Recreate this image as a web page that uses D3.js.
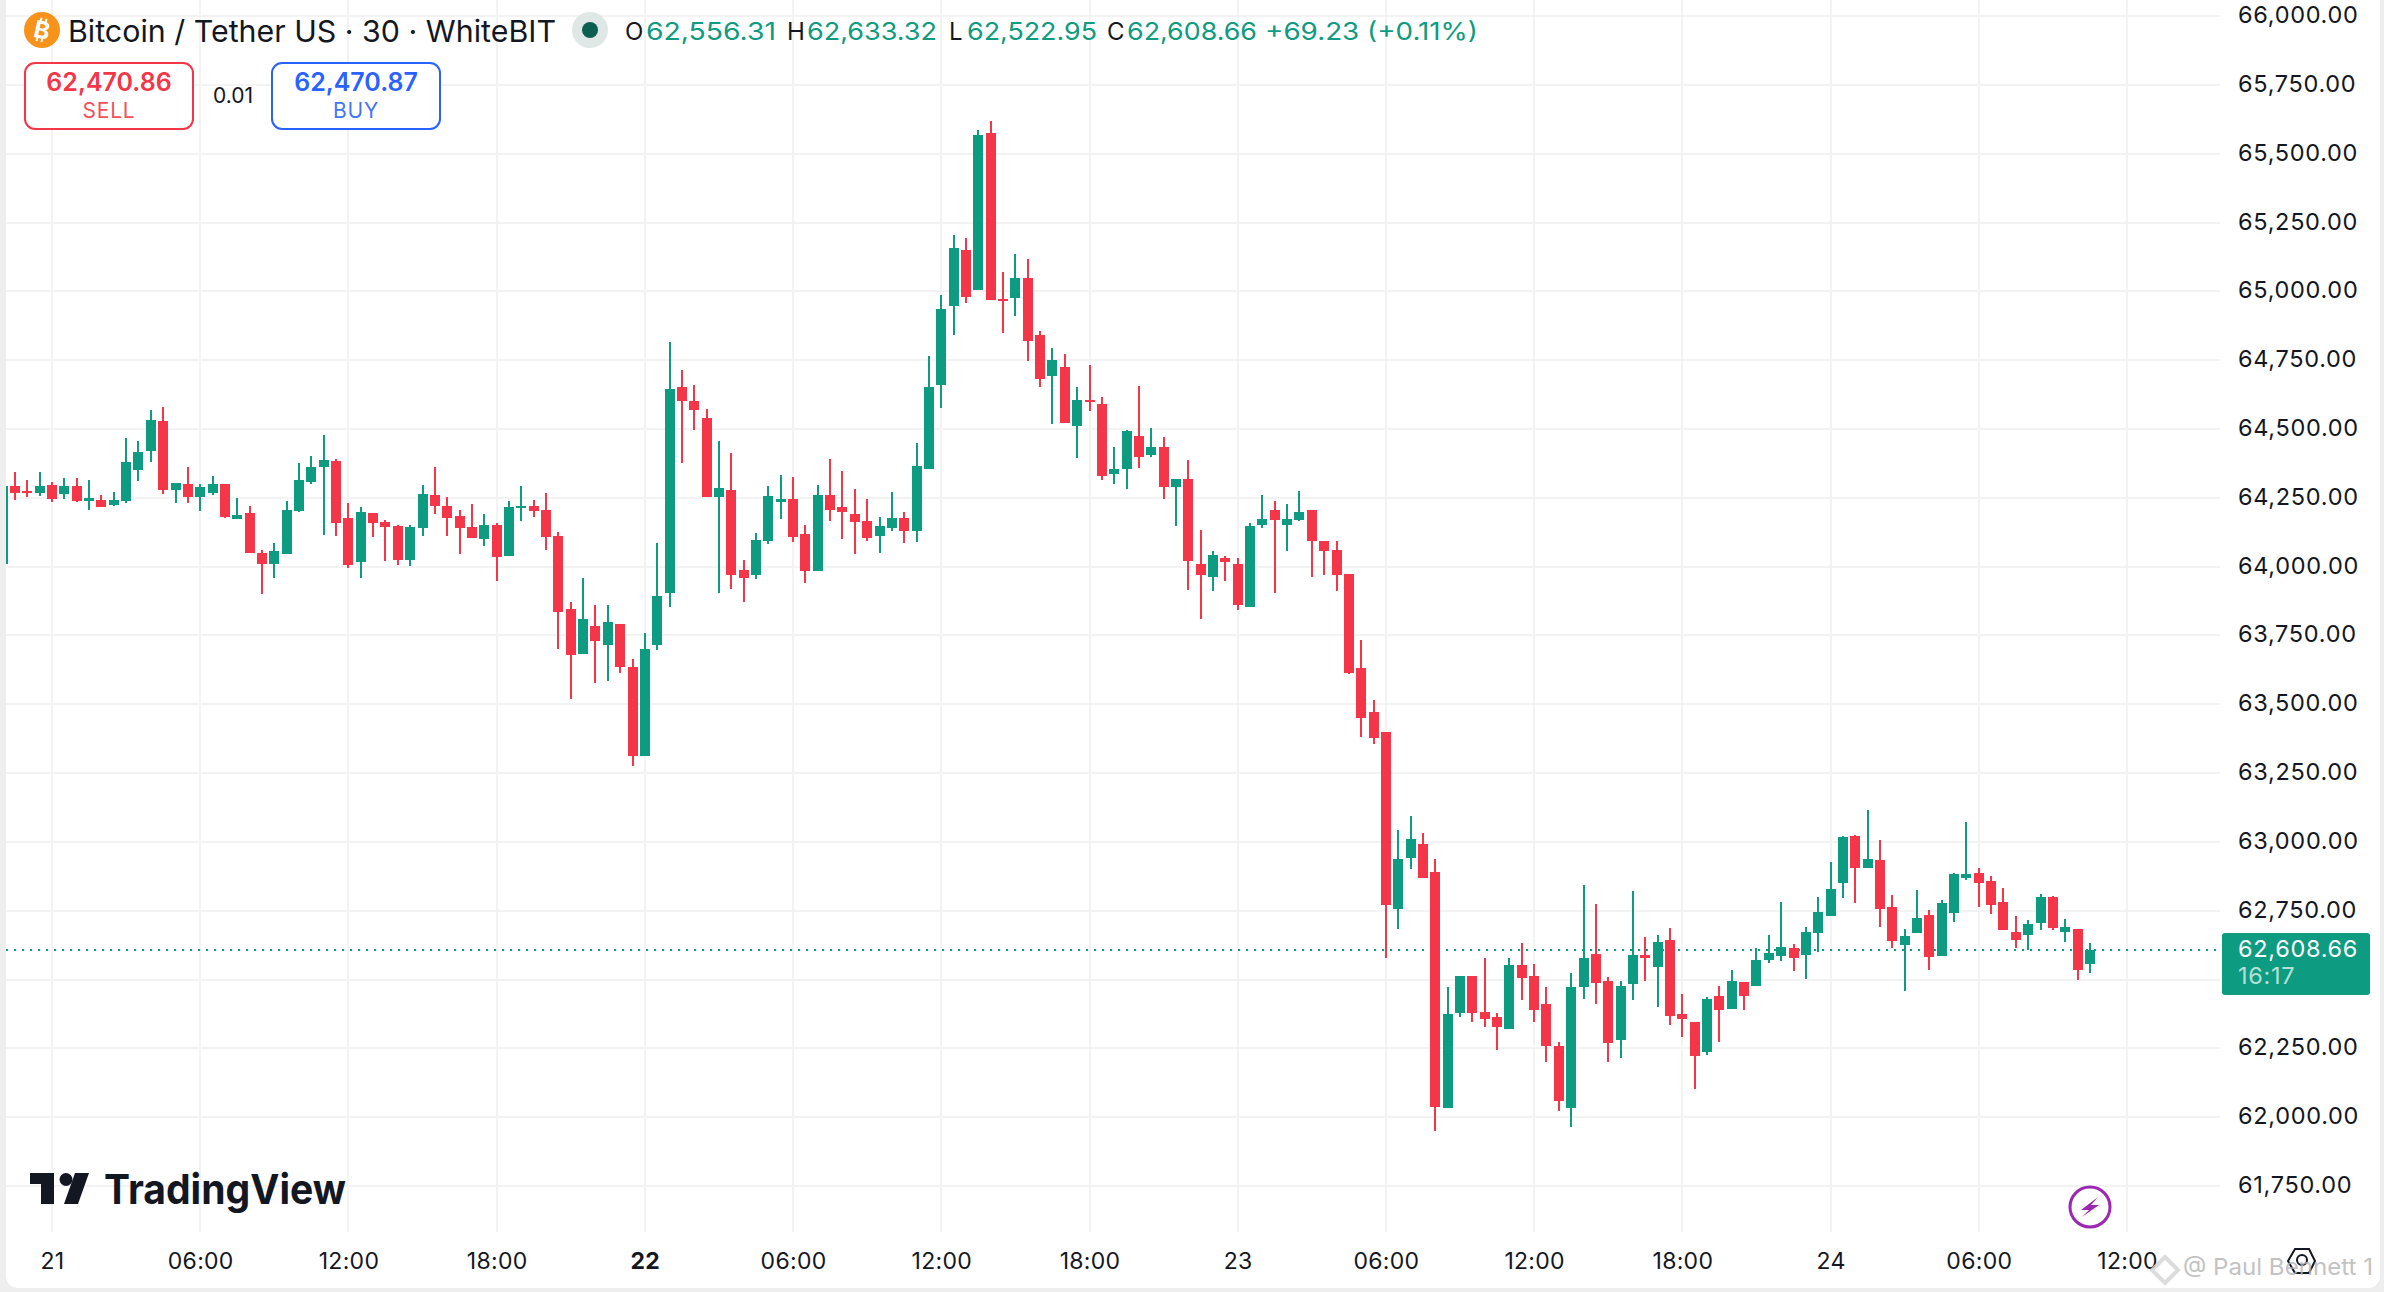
<!DOCTYPE html>
<html>
<head>
<meta charset="utf-8">
<title>Bitcoin / Tether US</title>
<script src="https://cdn.jsdelivr.net/npm/d3@7/dist/d3.min.js"></script>
<style>
  html, body { margin: 0; padding: 0; background: #fff; }
  svg { display: block; font-family: Inter, "Noto Sans", sans-serif; }
  .axis text { font-family: Inter, sans-serif; fill: #131722; }
</style>
</head>
<body>
<svg id="chart" width="2384" height="1292"></svg>
<script>
// candles are 30 min bars, bar 0 is 21st 00:00..
const firstBar = -4;
const opens = [
  64010, 64293, 64275, 64268,
  64297, 64264, 64293, 64238, 64242, 64224, 64238, 64351, 64420, 64529, 64278, 64300,
  64253, 64268, 64300, 64173, 64195, 64050, 64010, 64046, 64202, 64307, 64362, 64384,
  64177, 64017, 64195, 64162, 64148, 64024, 64140, 64260, 64220, 64184, 64144, 64100,
  64151, 64039, 64213, 64220, 64206, 64111, 63846, 63683, 63784, 63715, 63792, 63635,
  63312, 63715, 63904, 64653, 64602, 64540, 64253, 64278, 63988, 63970, 64093, 64235,
  64246, 64119, 63984, 64260, 64217, 64191, 64166, 64111, 64140, 64177, 64129, 64355,
  64661, 64948, 65151, 65006, 65576, 64973, 64977, 65050, 64843, 64691, 64727, 64512,
  64607, 64592, 64338, 64353, 64476, 64407, 64436, 64290, 64319, 64011, 63964, 64033,
  64008, 63855, 64153, 64207, 64153, 64170, 64204, 64094, 64061, 63973, 63630, 63471,
  63399, 62758, 62940, 62992, 62892, 62032, 62380, 62514, 62383, 62363, 62322, 62552,
  62514, 62410, 62260, 62035, 62472, 62591, 62494, 62279, 62483, 62588, 62547, 62642,
  62374, 62344, 62235, 62442, 62392, 62490, 62475, 62570, 62584, 62613, 62588, 62668,
  62730, 62850, 63021, 62904, 62933, 62762, 62624, 62668, 62733, 62584, 62741, 62868,
  62886, 62857, 62781, 62672, 62661, 62704, 62799, 62672, 62682, 62556.31
];
const highs = [
  64293, 64344, 64315, 64344,
  64307, 64322, 64322, 64315, 64260, 64271, 64467, 64456, 64569, 64580, 64304, 64362,
  64300, 64329, 64300, 64249, 64220, 64060, 64086, 64238, 64376, 64402, 64478, 64391,
  64231, 64217, 64195, 64169, 64151, 64151, 64297, 64362, 64253, 64206, 64228, 64191,
  64158, 64238, 64293, 64242, 64268, 64126, 63872, 63959, 63861, 63861, 63792, 63665,
  63759, 64086, 64816, 64714, 64660, 64573, 64456, 64413, 64024, 64122, 64293, 64333,
  64326, 64151, 64297, 64391, 64347, 64282, 64246, 64180, 64271, 64198, 64449, 64765,
  64985, 65206, 65195, 65588, 65620, 65072, 65134, 65119, 64857, 64796, 64771, 64651,
  64734, 64618, 64436, 64498, 64658, 64502, 64472, 64319, 64389, 64132, 64058, 64040,
  64033, 64160, 64262, 64240, 64229, 64273, 64204, 64094, 64092, 63973, 63733, 63515,
  63399, 63045, 63093, 63034, 62937, 62472, 62514, 62514, 62577, 62380, 62577, 62631,
  62555, 62472, 62274, 62525, 62845, 62776, 62508, 62494, 62823, 62653, 62661, 62686,
  62449, 62344, 62435, 62475, 62533, 62490, 62613, 62661, 62781, 62628, 62690, 62799,
  62926, 63021, 63024, 63115, 63006, 62806, 62682, 62824, 62752, 62788, 62886, 63072,
  62904, 62875, 62832, 62730, 62715, 62810, 62802, 62719, 62682, 62633.32
];
const lows = [
  64010, 64242, 64253, 64257,
  64235, 64246, 64235, 64206, 64217, 64220, 64231, 64311, 64380, 64264, 64231, 64231,
  64202, 64260, 64177, 64173, 64050, 63901, 63959, 64046, 64198, 64300, 64115, 64111,
  63995, 63959, 64108, 64020, 64006, 64002, 64111, 64191, 64111, 64046, 64104, 64075,
  63948, 64039, 64166, 64180, 64060, 63701, 63519, 63683, 63577, 63585, 63614, 63276,
  63312, 63697, 63853, 64376, 64496, 64253, 63904, 63919, 63872, 63955, 64082, 64173,
  64090, 63941, 63984, 64166, 64100, 64046, 64093, 64050, 64129, 64086, 64090, 64355,
  64578, 64840, 64956, 65006, 64970, 64847, 64912, 64748, 64651, 64519, 64523, 64393,
  64567, 64313, 64302, 64283, 64357, 64399, 64247, 64149, 63916, 63811, 63913, 63949,
  63844, 63855, 64142, 63903, 64055, 64164, 63964, 63971, 63913, 63610, 63380, 63354,
  62577, 62683, 62900, 62870, 61948, 62032, 62363, 62344, 62326, 62243, 62322, 62427,
  62347, 62202, 62024, 61965, 62431, 62410, 62202, 62216, 62427, 62494, 62399, 62336,
  62293, 62104, 62227, 62274, 62392, 62388, 62475, 62559, 62566, 62530, 62501, 62599,
  62730, 62795, 62777, 62904, 62690, 62613, 62457, 62668, 62533, 62584, 62708, 62861,
  62762, 62737, 62679, 62613, 62606, 62679, 62679, 62635, 62497, 62522.95
];
const closes = [
  64293, 64268, 64268, 64293,
  64246, 64293, 64238, 64249, 64217, 64242, 64380, 64416, 64533, 64278, 64304, 64253,
  64289, 64300, 64180, 64188, 64050, 64010, 64057, 64206, 64315, 64362, 64387, 64158,
  64006, 64198, 64158, 64144, 64024, 64144, 64264, 64220, 64177, 64140, 64104, 64151,
  64035, 64217, 64220, 64202, 64108, 63835, 63679, 63810, 63730, 63799, 63635, 63312,
  63701, 63893, 64645, 64602, 64569, 64253, 64286, 63970, 63959, 64097, 64257, 64246,
  64108, 63984, 64260, 64206, 64198, 64162, 64104, 64148, 64177, 64129, 64366, 64653,
  64937, 65159, 64981, 65569, 64970, 64966, 65050, 64821, 64683, 64752, 64523, 64607,
  64599, 64330, 64353, 64491, 64399, 64436, 64290, 64319, 64021, 63968, 64044, 64018,
  63859, 64149, 64174, 64168, 64174, 64200, 64092, 64058, 63971, 63613, 63449, 63377,
  62770, 62937, 63009, 62870, 62038, 62374, 62514, 62380, 62358, 62326, 62552, 62505,
  62391, 62257, 62058, 62472, 62577, 62489, 62271, 62478, 62588, 62580, 62636, 62366,
  62358, 62224, 62431, 62391, 62493, 62442, 62570, 62595, 62617, 62577, 62672, 62744,
  62828, 63017, 62904, 62937, 62755, 62639, 62657, 62722, 62581, 62777, 62882, 62882,
  62850, 62770, 62679, 62642, 62701, 62799, 62686, 62690, 62533, 62608.66
];

const priceTicks = [61750, 62000, 62250, 62500, 62750, 63000, 63250, 63500, 63750, 64000, 64250, 64500, 64750, 65000, 65250, 65500, 65750, 66000];
const hiddenPriceTick = 62500; // covered by the last price tag
const timeTickBars = [0, 12, 24, 36, 48, 60, 72, 84, 96, 108, 120, 132, 144, 156, 168];
const timeTickLabels = ['21', '06:00', '12:00', '18:00', '22', '06:00', '12:00', '18:00', '23', '06:00', '12:00', '18:00', '24', '06:00', '12:00'];
const boldTimeLabels = ['22'];
const lastPrice = 62608.66;

const ohlcLegend = [['O', '62,556.31'], ['H', '62,633.32'], ['L', '62,522.95'], ['C', '62,608.66']];

const green = '#0d9b81', red = '#f43648', gridColor = '#f3f3f3', ink = '#131722';
const plotLeft = 6, plotRight = 2220, plotBottom = 1232;

const bars = opens.map((o, i) => ({bar: firstBar + i, open: o, high: highs[i], low: lows[i], close: closes[i]}));

const xScale = d3.scaleLinear().domain([0, 168]).range([52, 2127]);
const yScale = d3.scaleLinear().domain([61750, 64500]).range([1186, 429]);
// the chart is pixel snapped
const px = v => Math.round(xScale(v));
const py = v => Math.round(yScale(v));

const svg = d3.select('#chart');

// grey frame of the screenshot
svg.append('rect').attr('width', 2384).attr('height', 1292).attr('fill', '#eeeeee');
svg.append('rect').attr('x', plotLeft).attr('y', -14).attr('width', 2374).attr('height', 1302).attr('rx', 12).attr('fill', '#fff');

svg.append('clipPath').attr('id', 'plotClip').append('rect')
    .attr('x', plotLeft).attr('y', 0).attr('width', plotRight - plotLeft).attr('height', plotBottom);

// gridlines
const grid = svg.append('g').attr('clip-path', 'url(#plotClip)');
grid.selectAll('.hgrid').data(priceTicks).join('line')
    .attr('class', 'hgrid')
    .attr('x1', plotLeft).attr('x2', plotRight)
    .attr('y1', d => py(d)).attr('y2', d => py(d))
    .attr('stroke', gridColor).attr('stroke-width', 2);
grid.selectAll('.vgrid').data(timeTickBars).join('line')
    .attr('class', 'vgrid')
    .attr('x1', d => px(d)).attr('x2', d => px(d))
    .attr('y1', 0).attr('y2', plotBottom)
    .attr('stroke', gridColor).attr('stroke-width', 2);

// last price dotted line
svg.append('line')
    .attr('x1', plotLeft).attr('x2', plotRight)
    .attr('y1', py(lastPrice)).attr('y2', py(lastPrice))
    .attr('stroke', green).attr('stroke-width', 2).attr('stroke-dasharray', '2 6');

// candles
const candles = svg.append('g').attr('clip-path', 'url(#plotClip)')
  .selectAll('g').data(bars).join('g')
    .attr('fill', d => d.close >= d.open ? green : red);
candles.append('rect')
    .attr('x', d => px(d.bar) - 1)
    .attr('width', 2)
    .attr('y', d => py(d.high))
    .attr('height', d => py(d.low) - py(d.high));
candles.append('rect')
    .attr('x', d => px(d.bar) - 5)
    .attr('width', 10)
    .attr('y', d => py(Math.max(d.open, d.close)))
    .attr('height', d => Math.max(2, Math.abs(py(d.open) - py(d.close))));

// price axis
const yAxis = d3.axisRight(yScale)
    .tickValues(priceTicks.filter(d => d !== hiddenPriceTick))
    .tickFormat(d3.format(',.2f'))
    .tickSize(0).tickPadding(0);
const yAxisG = svg.append('g').attr('class', 'axis')
    .attr('transform', 'translate(2238,-1)')
    .call(yAxis);
yAxisG.select('.domain').remove();
yAxisG.selectAll('text').attr('font-size', 23.5).attr('letter-spacing', 0.7).attr('font-family', 'Inter');

// time axis
const xAxis = d3.axisBottom(xScale)
    .tickValues(timeTickBars)
    .tickFormat((d, i) => timeTickLabels[i])
    .tickSize(0).tickPadding(0);
const xAxisG = svg.append('g').attr('class', 'axis')
    .attr('transform', 'translate(0,1253)')
    .call(xAxis);
xAxisG.select('.domain').remove();
xAxisG.selectAll('text')
    .attr('font-size', 23).attr('font-family', 'Inter').attr('letter-spacing', 0.3)
    .attr('font-weight', (d, i) => boldTimeLabels.includes(timeTickLabels[i]) ? 700 : 400);

// last price tag
svg.append('rect').attr('x', 2222).attr('y', 933).attr('width', 148).attr('height', 62).attr('rx', 3).attr('fill', green);
svg.append('text').attr('x', 2238).attr('y', 957).attr('font-size', 23.5).attr('letter-spacing', 0.7).attr('fill', '#fff').text(d3.format(',.2f')(lastPrice));
svg.append('text').attr('x', 2238).attr('y', 984).attr('font-size', 23.5).attr('letter-spacing', 0.7).attr('fill', '#fff').attr('fill-opacity', 0.7).text('16:17');

// header: symbol
const btc = svg.append('g').attr('transform', 'translate(42,30)');
btc.append('circle').attr('r', 18).attr('fill', '#f7931a');
const btcMark = btc.append('g').attr('transform', 'rotate(12)');
btcMark.append('text').attr('text-anchor', 'middle').attr('y', 8.5).attr('font-size', 24).attr('font-weight', 700)
    .attr('fill', '#fff').text('B');
btcMark.append('path').attr('d', 'M-3 -12V-8M2 -12V-8M-3 8V12M2 8V12').attr('stroke', '#fff').attr('stroke-width', 2);
svg.append('text').attr('x', 68).attr('y', 42).attr('font-size', 30).attr('fill', ink)
    .attr('textLength', 488).attr('lengthAdjust', 'spacingAndGlyphs')
    .text('Bitcoin / Tether US · 30 · WhiteBIT');
svg.append('circle').attr('cx', 590).attr('cy', 30).attr('r', 18).attr('fill', '#dfe8e6');
svg.append('circle').attr('cx', 590).attr('cy', 30).attr('r', 8).attr('fill', '#0c5f50');

// header: ohlc
const legendKeyX = [625, 787, 949, 1107], legendValX = [646, 807, 967, 1127];
ohlcLegend.forEach((d, i) => {
  svg.append('text').attr('x', legendKeyX[i]).attr('y', 40).attr('font-size', 24).attr('fill', ink).text(d[0]);
  svg.append('text').attr('x', legendValX[i]).attr('y', 40).attr('font-size', 24).attr('fill', green)
      .attr('textLength', 130).attr('lengthAdjust', 'spacingAndGlyphs').text(d[1]);
});
svg.append('text').attr('x', 1265).attr('y', 40).attr('font-size', 24).attr('fill', green)
    .attr('textLength', 213).attr('lengthAdjust', 'spacingAndGlyphs').text('+69.23 (+0.11%)');

// sell / buy boxes
function tradeBox(x, color, price, label) {
  svg.append('rect').attr('x', x).attr('y', 63).attr('width', 168).attr('height', 66).attr('rx', 10)
      .attr('fill', '#fff').attr('stroke', color).attr('stroke-width', 2);
  svg.append('text').attr('x', x + 84).attr('y', 91).attr('text-anchor', 'middle')
      .attr('font-size', 25).attr('font-weight', 600).attr('fill', color).text(price);
  svg.append('text').attr('x', x + 84).attr('y', 118).attr('text-anchor', 'middle')
      .attr('font-size', 21).attr('letter-spacing', 0.8).attr('fill', color).attr('fill-opacity', 0.9).text(label);
}
tradeBox(25, red, '62,470.86', 'SELL');
tradeBox(272, '#2962ff', '62,470.87', 'BUY');
svg.append('text').attr('x', 233).attr('y', 103).attr('text-anchor', 'middle').attr('font-size', 21).attr('fill', ink).text('0.01');

// tradingview logo
const logo = svg.append('g').attr('fill', '#131722');
logo.append('path').attr('d', 'M30 1173H54V1204H41V1184H30Z');
logo.append('circle').attr('cx', 66).attr('cy', 1179.5).attr('r', 6.5);
logo.append('path').attr('d', 'M75 1173H89L78 1204H64Z');
logo.append('text').attr('x', 104).attr('y', 1204).attr('font-size', 41).attr('font-weight', 700)
    .attr('textLength', 242).attr('lengthAdjust', 'spacingAndGlyphs').text('TradingView');

// lightning badge
const bolt = svg.append('g').attr('transform', 'translate(2090,1207)');
bolt.append('circle').attr('r', 20).attr('fill', '#fff').attr('stroke', '#9c27b0').attr('stroke-width', 3);
bolt.append('path').attr('d', 'M8 -10L-9 3H-1L-8 10L9 -2H1Z').attr('fill', '#9c27b0');

// hexagon icon + watermark in the corner
svg.append('path').attr('d', 'M2288 1261L2295 1249H2309L2315 1261L2309 1273H2295Z')
    .attr('fill', 'none').attr('stroke', '#131722').attr('stroke-width', 2);
svg.append('circle').attr('cx', 2302).attr('cy', 1260).attr('r', 5).attr('fill', 'none').attr('stroke', '#131722').attr('stroke-width', 2);
const wm = svg.append('g').attr('opacity', 0.8);
wm.append('path').attr('d', 'M2165 1257L2178 1270L2165 1283L2152 1270Z').attr('fill', 'none').attr('stroke', '#d4d4d4').attr('stroke-width', 4);
wm.append('text').attr('x', 2183).attr('y', 1275).attr('font-size', 23.5).attr('fill', '#b4b4b4')
    .attr('textLength', 190).attr('lengthAdjust', 'spacingAndGlyphs').text('@ Paul Bennett 1');
</script>
</body>
</html>
